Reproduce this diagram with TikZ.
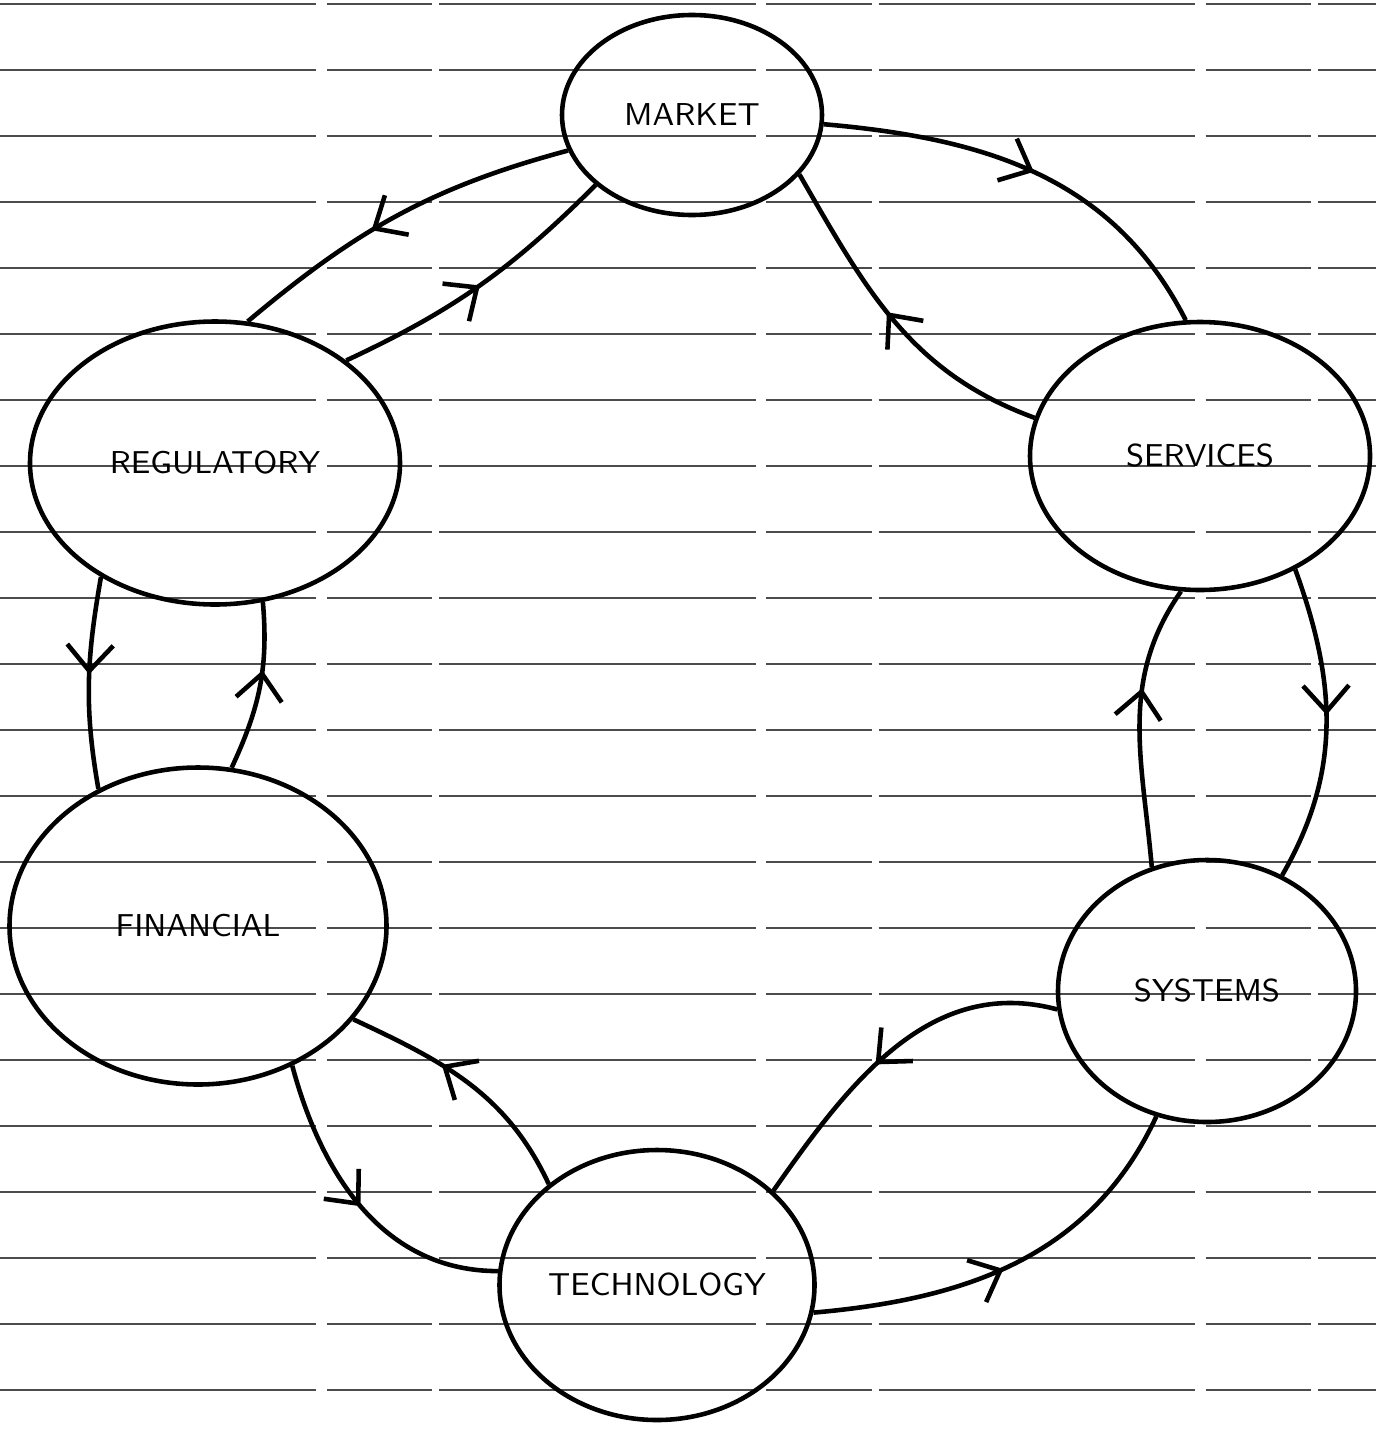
\documentclass[tikz,border=0pt]{standalone}
\usetikzlibrary{positioning,shapes.geometric,arrows.meta,decorations.markings}

\tikzset{
  area/.style={draw, ellipse, line width=1.3pt, inner sep=0pt, font=\sffamily\small},
  link/.style={line width=1.3pt, postaction={decorate},
    decoration={markings, mark=at position #1 with {\arrow{Straight Barb[length=2.6mm,width=4.6mm]}}}},
  link/.default=0.5,
  ruling/.style={black!70, line width=0.6pt, dash pattern=on 90pt off 3pt on 30pt off 2pt}
}

\begin{document}
\begin{tikzpicture}
        \useasboundingbox (0,0) rectangle (13.76,-14.29);
        % Paper lines
        \foreach \k in {0,...,21}
          \draw [ruling] (0,-0.04-0.66*\k) -- (13.76,-0.04-0.66*\k);

        % Place nodes
        \node[area, minimum width=2.6cm,  minimum height=2.0cm]  (market)     at (6.92,-1.15)  {MARKET};
        \node[area, minimum width=3.4cm,  minimum height=2.68cm] (services)   at (12.0,-4.56)  {SERVICES};
        \node[area, minimum width=2.98cm, minimum height=2.62cm] (systems)    at (12.07,-9.91) {SYSTEMS};
        \node[area, minimum width=3.15cm, minimum height=2.7cm]  (technology) at (6.57,-12.85) {TECHNOLOGY};
        \node[area, minimum width=3.77cm, minimum height=3.17cm] (financial)  at (1.98,-9.26)  {FINANCIAL};
        \node[area, minimum width=3.7cm,  minimum height=2.83cm] (regulatory) at (2.15,-4.63)  {REGULATORY};

        % Draw edges
        \path (market.-4)      edge [link=0.5,  out=-5,  in=117]  (services.96);
        \path (services.167)   edge [link=0.53, out=160, in=-60]  (market.-29);
        \path (services.-50)   edge [link=0.47, out=-70, in=60]   (systems.57);
        \path (systems.114)    edge [link=0.63, out=95,  in=-125] (services.-98);
        \path (systems.187)    edge [link=0.55, out=165, in=55]   (technology.39);
        \path (technology.-10) edge [link=0.47, out=5,   in=-115] (systems.-112);
        \path (technology.137) edge [link=0.62, out=115, in=-25]  (financial.-31);
        \path (financial.-56)  edge [link=0.5,  out=-75, in=180]  (technology.175);
        \path (financial.78)   edge [link=0.6,  out=65,  in=-85]  (regulatory.-71);
        \path (regulatory.225) edge [link=0.46, out=-100,in=100]  (financial.126);
        \path (regulatory.38)  edge [link=0.5,  out=25,  in=225]  (market.216);
        \path (market.196)     edge [link=0.58, out=195, in=40]   (regulatory.77);
\end{tikzpicture}
\end{document}
